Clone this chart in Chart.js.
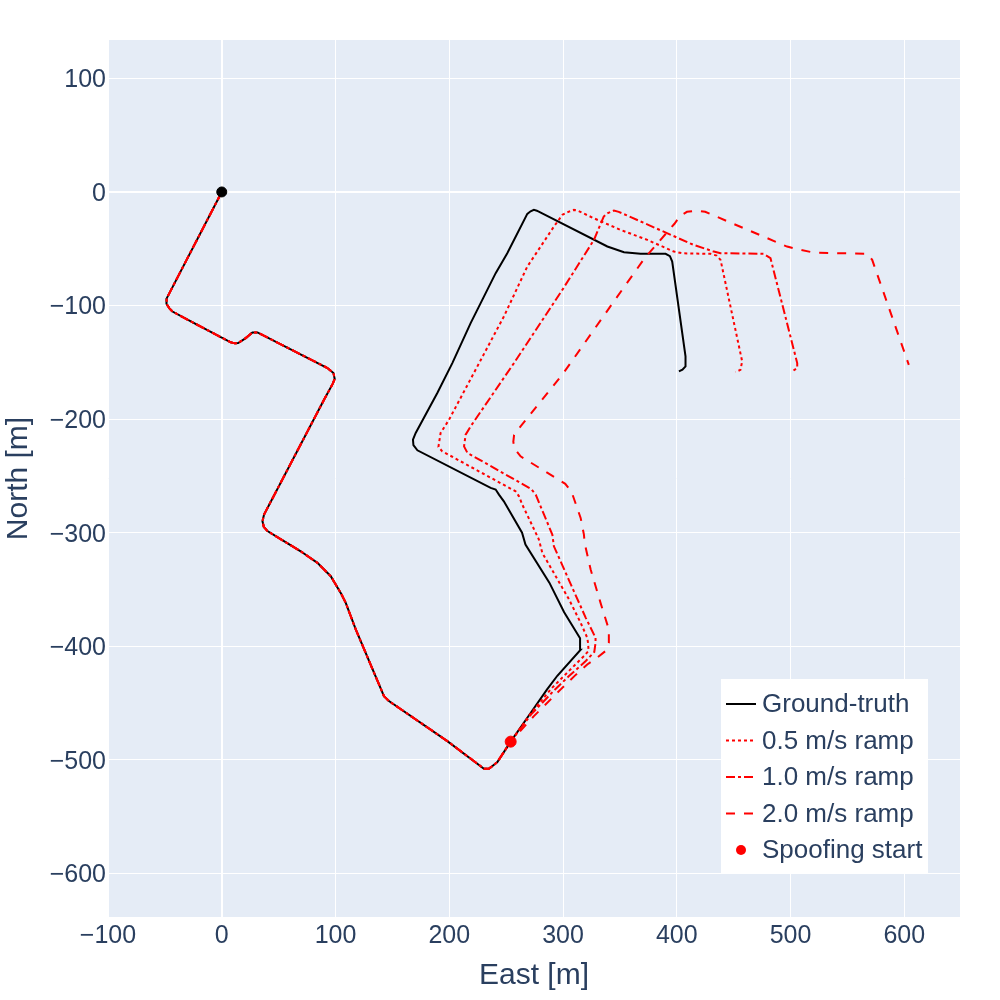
<!DOCTYPE html>
<html>
<head>
<meta charset="utf-8">
<title>Spoofed trajectories</title>
<script src="https://cdn.jsdelivr.net/npm/chart.js@4.4.0/dist/chart.umd.min.js"></script>
<style>
  body { margin: 0; background: #fff; }
</style>
</head>
<body>
<canvas id="trajectory" width="1000" height="1000"></canvas>
<script>
// path shared by every trace, up to the spoofing start
const commonEast = [0, -48.3, -48.6, -46, -43.3, -24.3, 7.9, 11.5, 14.4, 21.1, 27, 31.4, 92.9, 98.2, 99.3, 97.5, 89.9,
  37.2, 35.8, 37, 40.2, 54.7, 69.4, 84.1, 95.8, 104.6, 109, 117.8, 142.6, 147, 198.3, 230.5, 234.9, 238, 242.3, 254];
const commonNorth = [0, -93.5, -98.5, -102.5, -105.3, -115.5, -132.4, -133.3, -133, -128.7, -123.7, -123.7, -155, -159.5, -164.7, -169, -183,
  -284, -290, -295, -298.6, -307.5, -316.4, -326.6, -338.3, -353, -361.8, -385.2, -443.9, -448.3, -483.5, -507.8, -507.8, -505.5, -501.9, -484];

// ground truth after spoofing start
const truthEast = [270, 286, 295, 315.5, 315, 301, 288, 267, 264, 248, 243.7, 240.8, 236.4, 172, 168.5, 168.1, 170.5, 189.5, 202.7,
  218.8, 227.6, 240.8, 251, 268.6, 271.5, 274.4, 277, 339, 353.6, 368.2, 390.2, 394, 396, 407.7, 407.7, 405, 401.9];
const truthNorth = [-461, -438, -426, -403, -393, -370, -344, -310.5, -300, -272.4, -266.5, -262, -260.6, -227.5, -223, -218, -212.2, -177, -150.7,
  -115.5, -97.9, -71.5, -54, -19.3, -17, -15.8, -16.5, -48, -53, -54.5, -54.5, -56.5, -61.3, -144.8, -153.6, -156.5, -158];

// 0.5 m/s ramp
const ramp05East = [271, 290, 301, 318, 322.5, 322, 321.3, 315.5, 305.3, 281.8, 278.8, 264.2, 261.3, 258.3, 193.9, 190.5, 191, 192.4,
  199.8, 248, 268.6, 292, 299.4, 305.2, 309.6, 313, 327.2, 350.6, 374.1, 397.5, 405, 429.7, 435, 438.5, 457.5, 456, 451.7];
const ramp05North = [-460, -437, -426, -409, -404, -397, -392.5, -379.3, -358.8, -317.8, -306, -275.3, -268, -263.6, -228.4, -224.5, -221, -212.2,
  -200.5, -109.7, -65.7, -30.5, -20.2, -17.3, -15.8, -16.5, -23.2, -33.4, -42.2, -52.5, -54, -54.5, -56, -59.8, -149.2, -156.6, -158.6];

// 1.0 m/s ramp
const ramp10East = [272, 293, 305, 320, 327.5, 328.6, 328.6, 320, 308.2, 292, 290.6, 276, 272, 216, 213, 214.4, 218.8, 256.9,
  299.4, 327.2, 335.8, 339, 344.8, 349, 414.8, 432.6, 438.5, 476.5, 482.4, 505.9, 505.9, 501.5];
const ramp10North = [-460, -438, -426.5, -413, -405, -397, -392.5, -375, -348.5, -312, -301.7, -266.5, -261.5, -229.8, -224, -213.7, -206.4, -150.7,
  -86.2, -42.2, -21.7, -18.8, -16.4, -17.5, -46.6, -52.5, -53.9, -54.5, -58.3, -150.7, -155, -158];

// 2.0 m/s ramp
const ramp20East = [274.4, 298, 310, 321.3, 330, 337, 340.3, 340.3, 333, 324.3, 319, 318.4, 315.5, 307.5, 302, 262.7, 257.5, 256.3, 257,
  262.7, 300, 345, 372, 398, 403, 409, 418, 425, 497, 508.8, 520.5, 567.4, 571.8, 604];
const ramp20North = [-461.5, -438, -426.3, -416, -410, -404.5, -397, -385.2, -361.8, -332.5, -309, -301.7, -287, -264, -257, -232.8, -226, -220, -214,
  -206.4, -160, -96, -58, -28, -21, -17.5, -16.4, -17.5, -48.1, -51, -53.4, -54.5, -59.8, -152.2];

const spoofStart = [254, -484];
const origin = [0, 0];

const xTicks = [-100, 0, 100, 200, 300, 400, 500, 600];
const yTicks = [-600, -500, -400, -300, -200, -100, 0, 100];

const seriesNames = ['Ground-truth', '0.5 m/s ramp', '1.0 m/s ramp', '2.0 m/s ramp', 'Spoofing start'];

function toPoints(east, north) {
  const pts = [];
  for (let i = 0; i < east.length; i++) pts.push({ x: east[i], y: north[i] });
  return pts;
}

const FONT = "'Liberation Sans', Arial, sans-serif";
const TEXT = '#2a3f5f';
const dashes = { dot: [3, 3], dashdot: [9, 3, 3, 3], dash: [9, 9] };

const truth = toPoints(commonEast.concat(truthEast), commonNorth.concat(truthNorth));
const r05 = toPoints(commonEast.concat(ramp05East), commonNorth.concat(ramp05North));
const r10 = toPoints(commonEast.concat(ramp10East), commonNorth.concat(ramp10North));
const r20 = toPoints(commonEast.concat(ramp20East), commonNorth.concat(ramp20North));

const plotBackground = {
  id: 'plotBackground',
  beforeDraw(chart) {
    const { ctx, chartArea: a } = chart;
    ctx.save();
    ctx.fillStyle = '#e5ecf6';
    ctx.fillRect(a.left, a.top, a.right - a.left, a.bottom - a.top);
    ctx.restore();
  }
};

// legend box in the lower right of the plot, plotly style
const boxLegend = {
  id: 'boxLegend',
  afterDraw(chart) {
    const ctx = chart.ctx;
    ctx.save();
    ctx.fillStyle = '#fff';
    ctx.fillRect(721, 679, 207, 194);
    const rowY = [704, 740.5, 777, 813.5, 850];
    const styles = [
      { color: '#000', dash: [] },
      { color: 'red', dash: dashes.dot },
      { color: 'red', dash: dashes.dashdot },
      { color: 'red', dash: dashes.dash },
      null
    ];
    ctx.font = '26px ' + FONT;
    ctx.textBaseline = 'middle';
    rowY.forEach((y, i) => {
      const s = styles[i];
      if (s) {
        ctx.strokeStyle = s.color;
        ctx.lineWidth = 2;
        ctx.setLineDash(s.dash);
        ctx.beginPath();
        ctx.moveTo(726, y);
        ctx.lineTo(756, y);
        ctx.stroke();
      } else {
        ctx.fillStyle = 'red';
        ctx.beginPath();
        ctx.arc(741, y, 5, 0, Math.PI * 2);
        ctx.fill();
      }
      ctx.fillStyle = TEXT;
      ctx.fillText(seriesNames[i], 762, y + 1);
    });
    ctx.restore();
  }
};

function lineSet(label, data, color, dash, order) {
  return {
    label, data, showLine: true, borderColor: color, borderWidth: 2, borderDash: dash,
    pointRadius: 0, pointHoverRadius: 0, fill: false, tension: 0, order
  };
}

const tickText = v => (v < 0 ? '\u2212' + Math.abs(v) : String(v));
const gridWidth = c => (c.tick && c.tick.value === 0 ? 2 : 1);

new Chart(document.getElementById('trajectory'), {
  type: 'scatter',
  data: {
    datasets: [
      { label: seriesNames[4], data: [{ x: spoofStart[0], y: spoofStart[1] }], backgroundColor: 'red', borderColor: 'red', pointRadius: 5.5, order: 0 },
      { label: 'origin', data: [{ x: origin[0], y: origin[1] }], backgroundColor: '#000', borderColor: '#000', pointRadius: 5, order: 1 },
      lineSet(seriesNames[3], r20, 'red', dashes.dash, 2),
      lineSet(seriesNames[2], r10, 'red', dashes.dashdot, 3),
      lineSet(seriesNames[1], r05, 'red', dashes.dot, 4),
      lineSet(seriesNames[0], truth, '#000', [], 5)
    ]
  },
  options: {
    responsive: false,
    devicePixelRatio: 1,
    animation: false,
    events: [],
    layout: { padding: { top: 40, right: 40, left: 0, bottom: 0 } },
    plugins: { legend: { display: false }, tooltip: { enabled: false } },
    scales: {
      x: {
        type: 'linear', min: -100, max: 649,
        afterFit(s) { s.height = 83; },
        afterBuildTicks(s) { s.ticks = xTicks.map(v => ({ value: v })); },
        ticks: { stepSize: 100, includeBounds: false, padding: 4, color: TEXT, font: { family: FONT, size: 25 }, callback: tickText, maxRotation: 0 },
        grid: { color: '#fff', lineWidth: gridWidth, drawTicks: false },
        border: { display: false },
        title: { display: true, text: 'East [m]', color: TEXT, font: { family: FONT, size: 30 }, padding: { top: 0, bottom: 6 } }
      },
      y: {
        type: 'linear', min: -638.4, max: 133.8,
        afterFit(s) { s.width = 108; },
        afterBuildTicks(s) { s.ticks = yTicks.map(v => ({ value: v })); },
        ticks: { stepSize: 100, includeBounds: false, padding: 2, labelOffset: 2, color: TEXT, font: { family: FONT, size: 25 }, callback: tickText },
        grid: { color: '#fff', lineWidth: gridWidth, drawTicks: false },
        border: { display: false },
        title: { display: true, text: 'North [m]', color: TEXT, font: { family: FONT, size: 30 }, padding: { top: 1, bottom: 0 } }
      }
    }
  },
  plugins: [plotBackground, boxLegend]
});
</script>
</body>
</html>
